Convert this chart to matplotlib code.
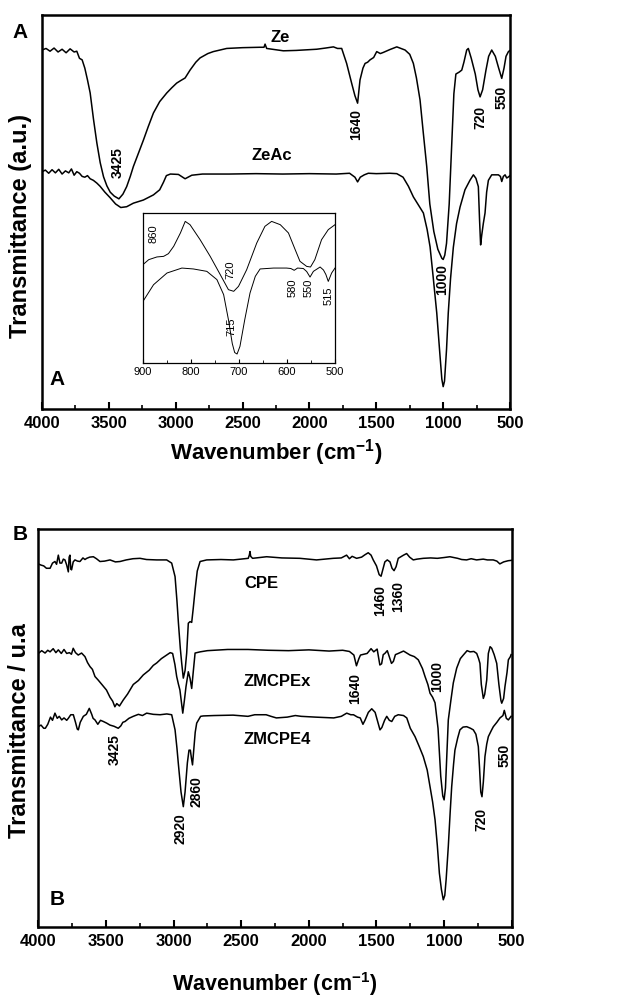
import matplotlib
matplotlib.use('Agg')
import matplotlib.pyplot as plt
from matplotlib.ticker import MultipleLocator

plt.rcParams['font.family'] = ['Liberation Sans', 'DejaVu Sans']
plt.rcParams['mathtext.fontset'] = 'custom'
plt.rcParams['mathtext.rm'] = 'Liberation Sans:bold'
plt.rcParams['mathtext.bf'] = 'Liberation Sans:bold'
plt.rcParams['mathtext.default'] = 'bf'

# ---------------- panel A : Ze / ZeAc ----------------
ze_wn = [4000, 3970, 3940, 3910, 3880, 3850, 3820, 3790, 3760, 3740, 3720, 3700, 3680, 3660,
         3640, 3615, 3590, 3565, 3540, 3515, 3490, 3460, 3425, 3395, 3367, 3340, 3317, 3280,
         3242, 3205, 3167, 3120, 3067, 3030, 2993, 2960, 2930, 2893, 2850, 2818, 2760, 2719,
         2619, 2500, 2370, 2340, 2332, 2320, 2195, 2100, 1946, 1880, 1821, 1790, 1759, 1722,
         1684, 1660, 1640, 1622, 1600, 1584, 1565, 1547, 1520, 1497, 1470, 1447, 1400, 1347,
         1285, 1250, 1223, 1200, 1173, 1150, 1123, 1100, 1070, 1040, 1010, 1000, 988, 975,
         955, 935, 920, 905, 880, 861, 845, 824, 812, 790, 760, 740, 724, 705, 680, 660, 637,
         610, 585, 562, 545, 530, 512, 500]
ze_t = [91.1, 91.5, 90.8, 91.6, 90.6, 91.3, 90.4, 91.4, 90.6, 90.8, 89.0, 88.6, 86.5, 83.5,
        80.2, 73.5, 67.5, 62.5, 58.9, 56.6, 55.0, 54.0, 53.3, 54.5, 56.4, 59.0, 61.5, 64.8,
        68.2, 71.7, 75.1, 78.0, 80.2, 81.5, 82.7, 83.4, 84.0, 86.0, 88.0, 89.1, 90.2, 90.7,
        91.5, 91.7, 91.8, 91.8, 92.6, 91.5, 90.9, 91.0, 91.3, 91.6, 91.9, 91.5, 91.5, 87.7,
        82.6, 79.5, 77.6, 83.5, 86.5, 87.7, 88.0, 88.6, 89.2, 90.7, 90.2, 90.5, 91.2, 91.9,
        91.1, 90.0, 87.7, 84.0, 78.4, 70.5, 61.5, 52.0, 45.0, 40.5, 38.2, 37.9, 39.0, 42.0,
        52.0, 68.0, 80.0, 85.0, 85.5, 86.0, 88.0, 91.1, 91.5, 89.0, 85.0, 81.0, 79.2, 81.0,
        86.0, 89.5, 91.1, 89.5, 86.5, 83.9, 86.5, 89.5, 90.7, 91.0]

zeac_wn = [4000, 3975, 3950, 3925, 3900, 3875, 3850, 3825, 3800, 3780, 3760, 3740, 3720, 3700,
           3680, 3660, 3640, 3616, 3590, 3566, 3530, 3491, 3450, 3411, 3367, 3317, 3242, 3167,
           3120, 3092, 3070, 3040, 2980, 2930, 2880, 2800, 2600, 2400, 2200, 2000, 1800, 1700,
           1660, 1640, 1620, 1590, 1560, 1500, 1400, 1347, 1300, 1260, 1223, 1190, 1148, 1120,
           1098, 1075, 1048, 1025, 1010, 1000, 990, 975, 962, 945, 924, 900, 874, 837, 800, 774,
           755, 737, 728, 720, 712, 700, 687, 675, 662, 637, 587, 572, 562, 550, 537, 525, 515, 500]
zeac_t = [60.2, 60.6, 59.8, 60.7, 59.9, 60.8, 59.6, 60.4, 59.9, 60.9, 59.3, 60.2, 59.8, 59.0,
          58.8, 59.2, 58.4, 58.0, 57.3, 56.5, 55.0, 53.6, 52.0, 51.1, 51.3, 52.2, 53.0, 54.3,
          55.6, 57.5, 59.2, 59.6, 59.5, 58.4, 59.3, 59.6, 59.6, 59.7, 59.6, 59.7, 59.6, 59.8,
          58.8, 57.6, 58.8, 59.4, 59.8, 59.7, 59.8, 59.7, 58.8, 56.5, 53.8, 52.0, 49.7, 45.5,
          41.1, 33.5, 24.3, 14.0, 7.5, 5.6, 7.0, 15.0, 24.3, 33.0, 41.0, 47.0, 51.2, 55.6, 58.0,
          59.4, 58.5, 56.4, 48.0, 41.6, 44.0, 47.0, 49.7, 55.0, 58.0, 59.4, 59.4, 59.0, 57.7,
          59.0, 59.4, 58.6, 58.8, 59.2]

# inset (900-500 cm-1), relative units
ins_ze_wn = [900, 888, 871, 857, 847, 836, 822, 812, 802, 781, 760, 739, 722, 711, 701, 684,
             663, 646, 632, 614, 597, 583, 573, 559, 551, 542, 528, 514, 500]
ins_ze_t = [0.656, 0.689, 0.707, 0.711, 0.729, 0.778, 0.867, 0.944, 0.922, 0.822, 0.711, 0.589,
            0.489, 0.478, 0.511, 0.622, 0.800, 0.911, 0.944, 0.922, 0.867, 0.756, 0.678, 0.644,
            0.640, 0.689, 0.822, 0.889, 0.922]
ins_zeac_wn = [900, 878, 850, 819, 795, 767, 746, 732, 722, 714, 709, 704, 698, 688, 677, 666,
               656, 628, 601, 592, 585, 578, 566, 559, 552, 545, 531, 524, 519, 514, 507, 500]
ins_zeac_t = [0.411, 0.522, 0.600, 0.633, 0.627, 0.611, 0.556, 0.456, 0.289, 0.130, 0.070, 0.060,
              0.111, 0.289, 0.467, 0.578, 0.627, 0.633, 0.633, 0.630, 0.618, 0.633, 0.630,
              0.610, 0.573, 0.611, 0.640, 0.620, 0.590, 0.544, 0.600, 0.633]

# ---------------- panel B : CPE / ZMCPEx / ZMCPE4 ----------------
cpe_wn = [4000, 3980, 3960, 3940, 3913, 3895, 3877, 3865, 3852, 3840, 3827, 3815, 3803, 3790,
          3778, 3772, 3766, 3760, 3754, 3742, 3729, 3710, 3692, 3670, 3655, 3642, 3620, 3593,
          3570, 3544, 3510, 3470, 3430, 3396, 3350, 3300, 3248, 3200, 3125, 3051, 3014, 2989,
          2975, 2964, 2950, 2940, 2928, 2915, 2903, 2891, 2878, 2866, 2855, 2841, 2825, 2804,
          2755, 2650, 2558, 2448, 2440, 2435, 2430, 2416, 2312, 2200, 2066, 1943, 1820, 1760,
          1721, 1700, 1680, 1647, 1610, 1585, 1561, 1540, 1524, 1500, 1480, 1466, 1452, 1438,
          1420, 1400, 1385, 1370, 1355, 1339, 1300, 1277, 1255, 1228, 1200, 1154, 1100, 1050,
          1000, 957, 900, 870, 834, 800, 760, 711, 680, 637, 610, 588, 560, 526, 500]
cpe_t = [91.3, 91.0, 90.8, 90.2, 90.2, 91.5, 91.9, 91.2, 93.5, 91.5, 91.5, 92.5, 92.3, 91.0,
         89.3, 93.0, 93.5, 90.0, 89.8, 91.8, 92.3, 92.0, 91.9, 92.8, 92.4, 92.7, 93.0, 93.1,
         92.6, 91.9, 92.0, 92.3, 91.8, 91.9, 92.3, 92.6, 92.7, 92.4, 92.3, 92.3, 91.5, 88.1,
         82.0, 76.4, 70.0, 66.4, 62.6, 64.5, 68.9, 76.4, 76.8, 76.6, 80.0, 84.7, 89.5, 91.9,
         92.3, 92.4, 92.3, 92.7, 93.5, 94.4, 93.2, 92.7, 93.1, 92.8, 92.7, 92.3, 92.7, 92.8,
         93.5, 92.6, 93.2, 92.7, 93.0, 93.6, 94.1, 93.5, 92.3, 90.8, 88.6, 88.2, 90.0, 91.8,
         92.3, 91.8, 90.2, 89.6, 90.6, 92.7, 93.5, 93.9, 93.0, 92.3, 92.5, 92.7, 92.8, 92.7,
         92.9, 93.1, 92.7, 92.4, 92.3, 92.6, 92.3, 92.5, 92.3, 92.3, 92.0, 91.3, 91.8, 92.1, 92.2]

zmcpex_wn = [4000, 3975, 3950, 3930, 3913, 3890, 3870, 3852, 3830, 3810, 3790, 3770, 3755, 3742,
             3725, 3705, 3680, 3655, 3636, 3618, 3600, 3581, 3557, 3530, 3496, 3470, 3450, 3434,
             3420, 3400, 3372, 3340, 3298, 3260, 3224, 3180, 3150, 3125, 3090, 3051, 3025, 3007,
             2990, 2977, 2965, 2953, 2940, 2932, 2920, 2908, 2891, 2878, 2866, 2855, 2841, 2804,
             2750, 2600, 2450, 2300, 2150, 2000, 1850, 1750, 1700, 1667, 1648, 1630, 1618, 1569,
             1540, 1520, 1495, 1475, 1462, 1450, 1438, 1420, 1389, 1375, 1360, 1339, 1300, 1252,
             1220, 1191, 1160, 1141, 1120, 1104, 1085, 1067, 1045, 1025, 1010, 1000, 990, 969, 950,
             932, 907, 880, 858, 830, 808, 780, 759, 745, 735, 725, 710, 700, 685, 673, 660, 648,
             630, 611, 595, 580, 574, 560, 550, 535, 525, 510, 505]
zmcpex_t = [68.8, 69.5, 68.9, 69.6, 69.2, 70.0, 69.0, 69.7, 68.8, 69.8, 68.8, 69.0, 68.6, 70.1,
            69.0, 68.4, 68.9, 68.0, 66.5, 65.5, 64.8, 63.0, 62.1, 61.0, 59.6, 57.8, 56.8, 55.4,
            56.2, 55.6, 57.1, 58.6, 61.0, 62.0, 63.4, 64.6, 65.8, 66.4, 67.5, 68.4, 69.0, 68.8,
            66.0, 63.0, 61.2, 59.6, 56.0, 53.8, 57.0, 60.5, 64.2, 62.5, 60.0, 64.0, 68.9, 69.2,
            69.5, 69.8, 69.8, 69.6, 69.5, 69.7, 69.4, 69.6, 69.3, 68.4, 65.7, 67.5, 68.4, 68.8,
            70.0, 69.2, 69.9, 65.9, 66.2, 68.5, 68.8, 69.5, 66.3, 66.8, 68.5, 68.8, 69.4, 68.4,
            68.0, 67.2, 65.0, 63.0, 61.0, 58.8, 57.8, 56.4, 50.0, 38.0, 33.0, 32.0, 35.0, 52.1, 57.0,
            61.4, 65.1, 67.5, 68.4, 69.5, 69.2, 69.3, 68.8, 67.5, 66.3, 61.0, 57.5, 58.5, 62.1,
            68.8, 70.5, 70.1, 68.5, 66.3, 61.0, 57.0, 56.3, 57.5, 60.5, 64.0, 67.2, 68.0, 68.5]

zmcpe4_wn = [4000, 3980, 3960, 3948, 3930, 3910, 3895, 3877, 3860, 3845, 3827, 3810, 3790, 3778,
             3760, 3741, 3725, 3712, 3704, 3690, 3667, 3645, 3623, 3605, 3595, 3581, 3560, 3540,
             3519, 3495, 3470, 3440, 3409, 3390, 3375, 3359, 3330, 3298, 3260, 3230, 3199, 3150,
             3100, 3050, 3014, 2989, 2975, 2965, 2945, 2928, 2915, 2898, 2886, 2876, 2868, 2860,
             2850, 2840, 2829, 2800, 2780, 2700, 2560, 2450, 2400, 2316, 2280, 2240, 2160, 2100,
             2057, 1950, 1880, 1816, 1760, 1720, 1690, 1670, 1640, 1620, 1600, 1585, 1560, 1535,
             1510, 1490, 1474, 1460, 1440, 1424, 1405, 1387, 1365, 1339, 1300, 1276, 1250, 1215,
             1185, 1154, 1125, 1104, 1085, 1067, 1050, 1035, 1020, 1006, 995, 985, 969, 955, 944,
             930, 920, 900, 883, 860, 833, 805, 784, 765, 747, 738, 729, 720, 710, 698, 685, 673,
             650, 636, 610, 587, 565, 555, 550, 540, 525, 510, 505]
zmcpe4_t = [50.4, 50.8, 50.0, 50.0, 51.0, 52.8, 52.0, 53.8, 52.5, 53.0, 52.1, 52.6, 52.0, 52.5,
            53.4, 53.4, 51.5, 49.8, 49.6, 51.5, 53.0, 53.5, 55.0, 53.5, 52.5, 52.1, 51.0, 52.0,
            51.7, 51.3, 50.8, 50.5, 50.0, 50.6, 51.5, 51.7, 52.5, 53.0, 53.5, 53.2, 53.8, 53.5,
            53.4, 53.6, 53.4, 49.6, 45.0, 41.2, 34.0, 30.3, 34.0, 41.3, 44.5, 44.5, 42.5, 40.8,
            45.0, 49.0, 51.3, 53.0, 53.1, 53.2, 53.3, 53.0, 53.4, 53.4, 53.0, 52.6, 52.8, 53.2,
            53.0, 52.8, 52.7, 52.6, 53.0, 53.8, 53.4, 53.4, 52.8, 52.6, 51.0, 52.0, 54.0, 54.9,
            54.0, 51.5, 49.6, 50.2, 52.0, 53.0, 52.0, 51.7, 53.0, 53.4, 53.2, 52.6, 50.0, 47.9,
            45.5, 42.9, 39.5, 35.3, 31.5, 27.0, 20.5, 13.6, 9.5, 6.9, 8.0, 12.0, 20.3, 29.0, 35.3,
            41.0, 44.5, 47.5, 49.6, 50.3, 50.4, 50.0, 49.6, 48.5, 45.4, 40.0, 34.0, 32.8, 36.5,
            42.9, 46.0, 47.9, 49.5, 50.4, 51.5, 52.6, 53.2, 54.5, 53.8, 52.5, 52.1, 52.8, 53.0]

fig = plt.figure(figsize=(6.31, 9.99), dpi=100)


def style_axes(ax):
    ax.set_xlim(4000, 500)
    ax.set_ylim(0, 100)
    ax.xaxis.set_major_locator(MultipleLocator(500))
    ax.xaxis.set_minor_locator(MultipleLocator(250))
    ax.tick_params(axis='x', which='major', direction='in', length=5, width=1.5,
                   labelsize=12, pad=5)
    ax.tick_params(axis='x', which='minor', direction='in', length=3, width=1.2)
    ax.set_yticks([])
    for lab in ax.get_xticklabels():
        lab.set_fontweight('bold')
    for s in ax.spines.values():
        s.set_linewidth(1.8)


# panel A
axA = fig.add_axes([0.0666, 0.5909, 0.7417, 0.3941])
axA.plot(ze_wn, ze_t, color='black', lw=1.1)
axA.plot(zeac_wn, zeac_t, color='black', lw=1.1)
style_axes(axA)
axA.text(0.5, -0.1125, 'Wavenumber (cm$^{-1}$)', transform=axA.transAxes, ha='center',
         va='center', fontsize=16, fontweight='bold')
axA.text(-0.047, 0.464, 'Transmittance (a.u.)', transform=axA.transAxes, ha='center',
         va='center', rotation=90, fontsize=17, fontweight='bold')
axA.text(2220, 94.4, 'Ze', ha='center', va='center', fontsize=12, fontweight='bold')
axA.text(2280, 64.4, 'ZeAc', ha='center', va='center', fontsize=12, fontweight='bold')
for x, y, s in [(3432, 62.4, '3425'), (1652, 72.1, '1640'), (724, 74.1, '720'),
                (560, 79.2, '550'), (1008, 32.7, '1000')]:
    axA.text(x, y, s, ha='center', va='center', rotation=90, fontsize=10, fontweight='bold')
axA.text(0.032, 0.073, 'A', transform=axA.transAxes, ha='center', va='center',
         fontsize=15, fontweight='bold')

# inset
axI = fig.add_axes([0.2266, 0.6366, 0.3043, 0.1502])
axI.plot(ins_ze_wn, ins_ze_t, color='black', lw=0.7)
axI.plot(ins_zeac_wn, ins_zeac_t, color='black', lw=0.7)
axI.set_xlim(900, 500)
axI.set_ylim(0, 1)
axI.set_yticks([])
axI.xaxis.set_major_locator(MultipleLocator(100))
axI.xaxis.set_minor_locator(MultipleLocator(50))
axI.tick_params(axis='x', which='major', direction='in', length=3, width=0.8,
                labelsize=8, pad=3)
axI.tick_params(axis='x', which='minor', direction='in', length=2, width=0.6)
for s in axI.spines.values():
    s.set_linewidth(0.9)
for x, y, s in [(878, 0.86, '860'), (718, 0.62, '720'), (716, 0.24, '715'),
                (588, 0.50, '580'), (556, 0.50, '550'), (514, 0.45, '515')]:
    axI.text(x, y, s, ha='center', va='center', rotation=90, fontsize=8)

# panel B
axB = fig.add_axes([0.0607, 0.0718, 0.7503, 0.3984])
axB.plot(cpe_wn, cpe_t, color='black', lw=1.1)
axB.plot(zmcpex_wn, zmcpex_t, color='black', lw=1.1)
axB.plot(zmcpe4_wn, zmcpe4_t, color='black', lw=1.1)
style_axes(axB)
axB.text(0.5, -0.142, 'Wavenumber (cm$^{-1}$)', transform=axB.transAxes, ha='center',
         va='center', fontsize=15.5, fontweight='bold')
axB.text(-0.0387, 0.493, 'Transmittance / u.a', transform=axB.transAxes, ha='center',
         va='center', rotation=90, fontsize=17, fontweight='bold')
axB.text(2348, 86.4, 'CPE', ha='center', va='center', fontsize=12, fontweight='bold')
axB.text(2237, 61.7, 'ZMCPEx', ha='center', va='center', fontsize=12, fontweight='bold')
axB.text(2237, 47.1, 'ZMCPE4', ha='center', va='center', fontsize=12, fontweight='bold')
for x, y, s in [(1474, 82.2, '1460'), (1341, 83.0, '1360'), (1659, 60.1, '1640'),
                (1055, 63.1, '1000'), (3432, 44.6, '3425'), (2952, 24.9, '2920'),
                (2829, 34.1, '2860'), (722, 27.0, '720'), (550, 43.3, '550')]:
    axB.text(x, y, s, ha='center', va='center', rotation=90, fontsize=10, fontweight='bold')
axB.text(0.039, 0.069, 'B', transform=axB.transAxes, ha='center', va='center',
         fontsize=15, fontweight='bold')

fig.text(0.032, 0.967, 'A', ha='center', va='center', fontsize=15, fontweight='bold')
fig.text(0.032, 0.4645, 'B', ha='center', va='center', fontsize=15, fontweight='bold')

fig.savefig('out.png', dpi=100)
